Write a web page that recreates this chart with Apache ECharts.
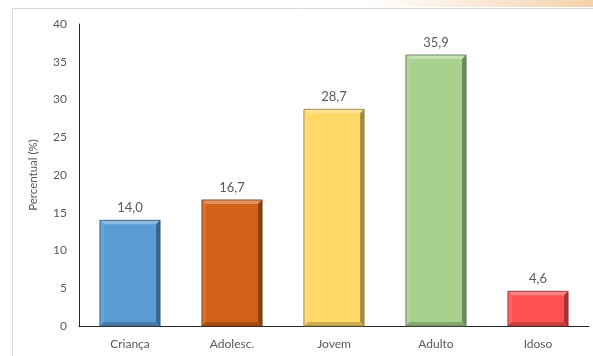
<!DOCTYPE html>
<html>
<head>
<meta charset="utf-8">
<script src="https://cdn.jsdelivr.net/npm/echarts@6/dist/echarts.min.js"></script>
<style>
  html, body { margin: 0; padding: 0; background: #fff; }
  #chart { width: 593px; height: 356px; }
</style>
</head>
<body>
<div id="chart"></div>
<script>
// Faixas etárias e percentuais
const categories = ['Criança', 'Adolesc.', 'Jovem', 'Adulto', 'Idoso'];
const values = [14.0, 16.7, 28.7, 35.9, 4.6];
const barColors = ['#5B9BD5', '#D2621A', '#FFD966', '#A9D18E', '#FF5050'];
const yTicks = [0, 5, 10, 15, 20, 25, 30, 35, 40];

const FONT = 'Lato, "Open Sans", sans-serif';

function shade(hex, f) {
  const n = parseInt(hex.slice(1), 16);
  let r = (n >> 16) & 255, g = (n >> 8) & 255, b = n & 255;
  if (f >= 0) { r += (255 - r) * f; g += (255 - g) * f; b += (255 - b) * f; }
  else { r *= (1 + f); g *= (1 + f); b *= (1 + f); }
  return 'rgb(' + Math.round(r) + ',' + Math.round(g) + ',' + Math.round(b) + ')';
}

// Barra com chanfro: faces superior/esquerda claras, direita/inferior escuras
function renderBevelBar(params, api) {
  const idx = api.value(0);
  const val = api.value(1);
  const top = api.coord([idx, val]);
  const base = api.coord([idx, 0]);
  const bandW = api.size([1, 0])[0];
  const w = bandW * 0.59;
  const x0 = top[0] - w / 2, x1 = top[0] + w / 2;
  const y0 = top[1], y1 = base[1];
  const c = barColors[idx];
  const b = 4;
  return {
    type: 'group',
    children: [
      { type: 'rect', shape: { x: x0, y: y0, width: w, height: y1 - y0 },
        style: { fill: c } },
      { type: 'polygon', shape: { points: [[x0, y0], [x1, y0], [x1 - b, y0 + b], [x0 + b, y0 + b]] },
        style: { fill: shade(c, 0.3) } },
      { type: 'polygon', shape: { points: [[x0, y0], [x0 + b, y0 + b], [x0 + b, y1 - b], [x0, y1]] },
        style: { fill: shade(c, 0.1) } },
      { type: 'polygon', shape: { points: [[x1, y0], [x1, y1], [x1 - b, y1 - b], [x1 - b, y0 + b]] },
        style: { fill: shade(c, -0.35) } },
      { type: 'polygon', shape: { points: [[x0, y1], [x1, y1], [x1 - b, y1 - b], [x0 + b, y1 - b]] },
        style: { fill: shade(c, -0.2) } },
      { type: 'rect', shape: { x: x0, y: y0, width: w, height: y1 - y0 },
        style: { fill: 'none', stroke: shade(c, -0.45), lineWidth: 0.8 } },
      { type: 'text', x: top[0], y: y0 - 6,
        style: { text: val.toFixed(1).replace('.', ','), fill: '#595959',
                 font: '13px ' + FONT, align: 'center', verticalAlign: 'bottom' } }
    ]
  };
}

const chart = echarts.init(document.getElementById('chart'), null, { renderer: 'canvas' });
chart.setOption({
  animation: false,
  backgroundColor: '#fff',
  graphic: [
    { type: 'rect', left: 360, top: 0, shape: { width: 233, height: 7 }, z: -2,
      style: { fill: new echarts.graphic.LinearGradient(0, 0, 1, 0, [
        { offset: 0, color: 'rgba(246,217,184,0)' },
        { offset: 1, color: 'rgba(243,208,168,1)' }
      ]) } },
    { type: 'rect', left: 12, top: 8, shape: { width: 600, height: 360 },
      style: { fill: '#fff', stroke: '#d9d9d9', lineWidth: 1 }, z: -1 }
  ],
  grid: { left: 79, right: 4, top: 24, bottom: 30, containLabel: false },
  xAxis: {
    type: 'category',
    data: categories,
    axisLine: { show: true, lineStyle: { color: '#262626', width: 1 } },
    axisTick: { show: false },
    axisLabel: { color: '#595959', fontSize: 12, fontFamily: FONT, margin: 12 }
  },
  yAxis: {
    type: 'value',
    min: yTicks[0],
    max: yTicks[yTicks.length - 1],
    interval: 5,
    name: 'Percentual (%)',
    nameLocation: 'middle',
    nameGap: 40,
    nameTextStyle: { color: '#595959', fontSize: 11.5, fontFamily: FONT },
    axisLine: { show: true, lineStyle: { color: '#262626', width: 1 } },
    axisTick: { show: false },
    splitLine: { show: false },
    axisLabel: { color: '#595959', fontSize: 12, fontFamily: FONT, margin: 12 }
  },
  series: [{
    type: 'custom',
    renderItem: renderBevelBar,
    encode: { x: 0, y: 1 },
    data: values.map((v, i) => [i, v])
  }]
});
</script>
</body>
</html>
